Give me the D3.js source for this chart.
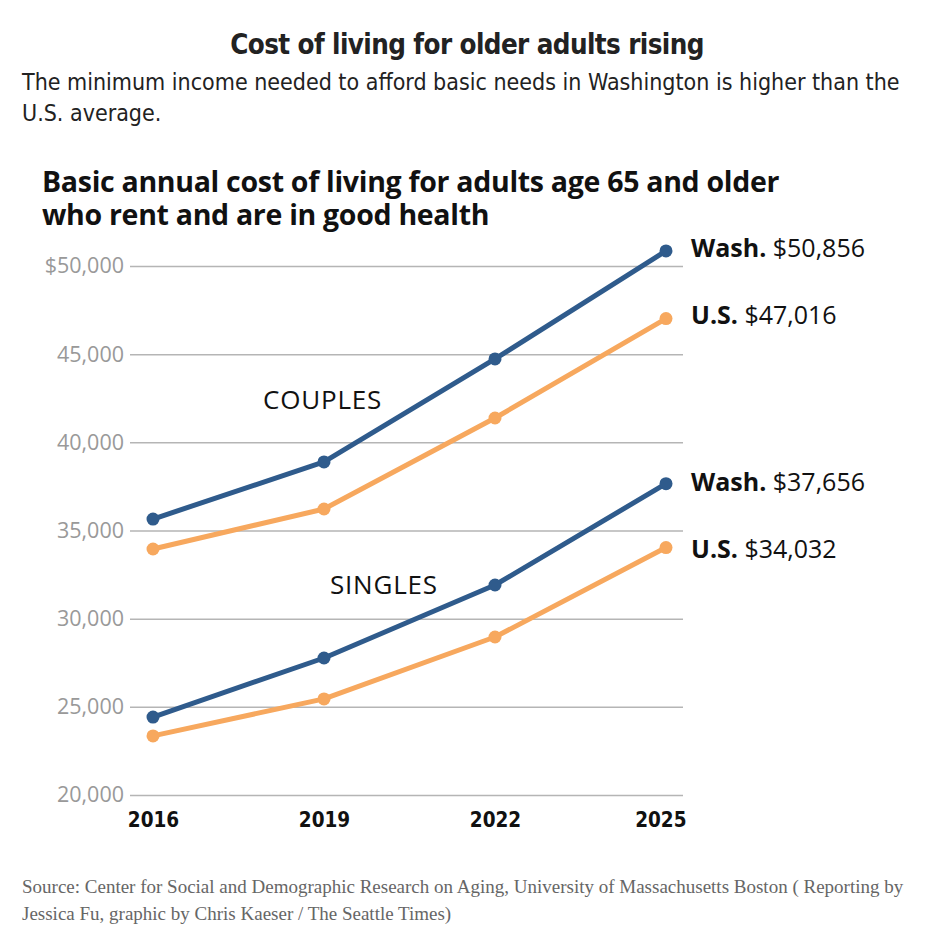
<!DOCTYPE html>
<html><head><meta charset="utf-8">
<script src="https://cdn.jsdelivr.net/npm/d3@7"></script>
<style>body{margin:0;background:#fff}</style>
</head><body>
<svg id="c" width="929" height="932"></svg>
<script>
const years = [2016, 2019, 2022, 2025];
const washCouples = [35650, 38890, 44730, 50856];
const usCouples = [33950, 36220, 41380, 47016];
const washSingles = [24420, 27770, 31910, 37656];
const usSingles = [23350, 25450, 28960, 34032];
const yTicks = [20000, 25000, 30000, 35000, 40000, 45000, 50000];
const seriesNames = ["Wash.", "U.S.", "Wash.", "U.S."];

const svg = d3.select("#c");
const x = d3.scalePoint().domain(years).range([153, 666]);
const y = d3.scaleLinear().domain([20000, 50000]).range([795, 266]);
const blue = "#2f5b8c", orange = "#f7a85e";

svg.append("text").attr("x", 467).attr("y", 54).attr("text-anchor", "middle")
  .attr("font-family", "'DejaVu Sans Condensed','Liberation Sans Narrow',sans-serif").attr("font-weight", "bold")
  .attr("font-size", 27.5).attr("letter-spacing", -0.6).attr("fill", "#222").text("Cost of living for older adults rising");
const sub = ["The minimum income needed to afford basic needs in Washington is higher than the", "U.S. average."];
sub.forEach((t, i) => svg.append("text").attr("x", 22).attr("y", 90 + i * 31)
  .attr("font-family", "'Liberation Sans Narrow','DejaVu Sans Condensed',sans-serif")
  .attr("font-size", 23).attr("fill", "#222").text(t));

const ct = ["Basic annual cost of living for adults age 65 and older", "who rent and are in good health"];
const ctText = svg.append("text").attr("font-family", "'Open Sans',sans-serif").attr("font-weight", "bold")
  .attr("font-size", 28.5).attr("fill", "#111").attr("letter-spacing", -0.3);
ct.forEach((t, i) => ctText.append("tspan").attr("x", 42).attr("y", 192 + i * 33).text(t));

// gridlines
const yAxis = d3.axisLeft(y).tickValues(yTicks).tickSize(-(683 - 130)).tickPadding(6)
  .tickFormat((d, i) => (d === 50000 ? "$" : "") + d3.format(",")(d));
const g = svg.append("g").attr("transform", "translate(130,0)").call(yAxis);
g.select(".domain").remove();
g.selectAll(".tick line").attr("stroke", "#b5b5b5").attr("stroke-width", 1.5);
g.selectAll(".tick text").attr("fill", "#999").attr("font-size", 21.5)
  .attr("font-family", "'Open Sans',sans-serif").attr("x", -6);

const xAxis = d3.axisBottom(x).tickSize(0).tickPadding(0);
const gx = svg.append("g").attr("transform", "translate(0,812)").call(xAxis);
gx.select(".domain").remove();
gx.selectAll(".tick text").attr("fill", "#111").attr("font-size", 20.5).attr("font-weight", "bold")
  .attr("font-family", "'DejaVu Sans Condensed',sans-serif").attr("dy", "0.75em");
gx.selectAll(".tick").filter(d => d === 2025).select("text").attr("text-anchor", "end").attr("x", 20);

const line = d3.line().x((d, i) => x(years[i])).y(d => y(d));
const series = [[washCouples, blue], [usCouples, orange], [washSingles, blue], [usSingles, orange]];
series.forEach(([vals, col]) => {
  svg.append("path").datum(vals).attr("d", line).attr("fill", "none")
    .attr("stroke", col).attr("stroke-width", 5).attr("stroke-linejoin", "round");
  svg.selectAll(null).data(vals).join("circle").attr("cx", (d, i) => x(years[i])).attr("cy", d => y(d))
    .attr("r", 6.5).attr("fill", col);
});

// end labels
const labelY = [257, 324, 491, 558];
series.forEach(([vals], i) => {
  const t = svg.append("text").attr("x", 691).attr("y", labelY[i])
    .attr("font-family", "'Open Sans',sans-serif").attr("font-size", 25).attr("fill", "#111");
  t.append("tspan").attr("font-weight", "bold").text(seriesNames[i] + " ");
  t.append("tspan").text("$" + d3.format(",")(vals[3]));
});

svg.append("text").attr("x", 263).attr("y", 409).attr("font-family", "'Open Sans',sans-serif")
  .attr("font-size", 26).attr("letter-spacing", 0.8).attr("fill", "#111").text("COUPLES");
svg.append("text").attr("x", 330).attr("y", 594).attr("font-family", "'Open Sans',sans-serif")
  .attr("font-size", 26).attr("letter-spacing", 0.8).attr("fill", "#111").text("SINGLES");

const src = ["Source: Center for Social and Demographic Research on Aging, University of Massachusetts Boston ( Reporting by", "Jessica Fu, graphic by Chris Kaeser / The Seattle Times)"];
src.forEach((t, i) => svg.append("text").attr("x", 22).attr("y", 893 + i * 27)
  .attr("font-family", "'Liberation Serif',serif").attr("font-size", 19).attr("fill", "#666").text(t));
</script>
</body></html>
